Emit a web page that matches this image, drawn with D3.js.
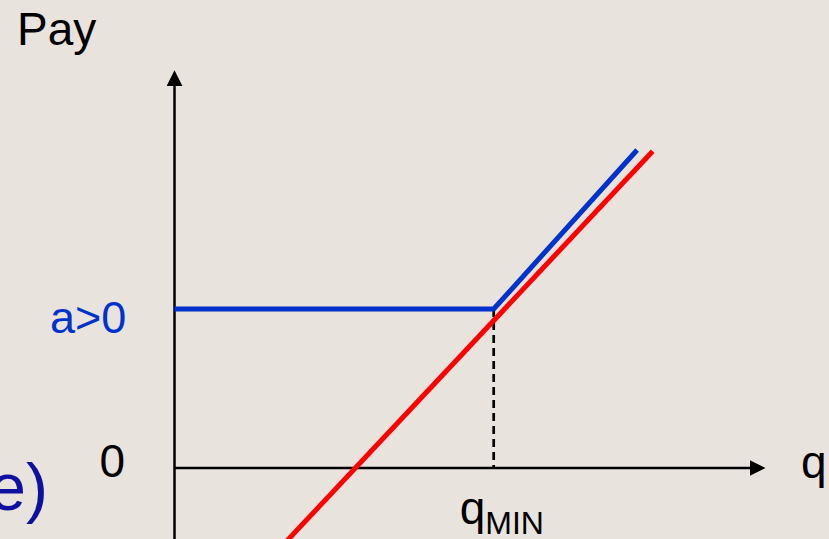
<!DOCTYPE html>
<html lang="en">
<head>
  <meta charset="UTF-8">
  <title>Pay vs q</title>
  <style>
    body { margin: 0; background: #e8e4dd; }
    svg text { font-family: "Liberation Sans", Arial, sans-serif; }
  </style>
</head>
<body>
  <svg width="829" height="539"></svg>
  <script src="https://cdn.jsdelivr.net/npm/d3@7"></script>
  <script>
    // values (q units / pay units)
    var qMin = 5.32
    var a = 2.65
    var blueLine = [[0, a], [qMin, a], [7.71, 5.3]]
    var redLine = [[1.85, -1.24], [7.97, 5.28]]
    var xAxisEnd = 9.85
    var yAxisRange = [-1.2, 6.63]

    var svg = d3.select('svg')
    var width = +svg.attr('width')
    var height = +svg.attr('height')

    svg.append('rect')
      .attr('width', width)
      .attr('height', height)
      .attr('fill', '#e8e4dd')

    var x = d3.scaleLinear().domain([0, 10]).range([174.5, 774.5])
    var y = d3.scaleLinear().domain([0, 5]).range([468, 168])

    var line = d3.line()
      .x(function(d) { return x(d[0]) })
      .y(function(d) { return y(d[1]) })

    // arrowhead: base sits at the line end, tip 16px further on
    var defs = svg.append('defs')
    defs.append('marker')
      .attr('id', 'arrow')
      .attr('markerUnits', 'userSpaceOnUse')
      .attr('viewBox', '0 0 16 16')
      .attr('refX', 1)
      .attr('refY', 8)
      .attr('markerWidth', 16)
      .attr('markerHeight', 16)
      .attr('orient', 'auto')
      .append('path')
      .attr('d', 'M0,0 L16,8 L0,16 Z')
      .attr('fill', '#000')

    // axes
    svg.append('line')
      .attr('x1', x(0)).attr('y1', y(0))
      .attr('x2', x(xAxisEnd) - 15).attr('y2', y(0))
      .attr('stroke', '#000')
      .attr('stroke-width', 2.5)
      .attr('marker-end', 'url(#arrow)')

    svg.append('line')
      .attr('x1', x(0)).attr('y1', y(yAxisRange[0]))
      .attr('x2', x(0)).attr('y2', y(yAxisRange[1]) + 15)
      .attr('stroke', '#000')
      .attr('stroke-width', 2.5)
      .attr('marker-end', 'url(#arrow)')

    // dashed guide at qMin
    svg.append('line')
      .attr('x1', x(qMin)).attr('y1', y(a))
      .attr('x2', x(qMin)).attr('y2', y(0))
      .attr('stroke', '#000')
      .attr('stroke-width', 2.7)
      .attr('stroke-dasharray', '8,5')

    svg.append('path')
      .datum(redLine)
      .attr('d', line)
      .attr('fill', 'none')
      .attr('stroke', '#ff0000')
      .attr('stroke-width', 5)

    svg.append('path')
      .datum(blueLine)
      .attr('d', line)
      .attr('fill', 'none')
      .attr('stroke', '#0033cc')
      .attr('stroke-width', 5)

    // labels
    svg.append('text')
      .attr('x', 17).attr('y', 45)
      .attr('font-size', 46)
      .attr('fill', '#000')
      .text('Pay')

    svg.append('text')
      .attr('x', 50).attr('y', y(a) + 24)
      .attr('font-size', 45)
      .attr('fill', '#0033cc')
      .text('a>0')

    svg.append('text')
      .attr('x', 125).attr('y', y(0) + 9)
      .attr('font-size', 46)
      .attr('text-anchor', 'end')
      .attr('fill', '#000')
      .text('0')

    svg.append('text')
      .attr('x', 801).attr('y', y(0) + 10)
      .attr('font-size', 46)
      .attr('fill', '#000')
      .text('q')

    var qm = svg.append('text')
      .attr('x', x(qMin) - 34).attr('y', 524)
      .attr('font-size', 46)
      .attr('fill', '#000')
    qm.append('tspan').text('q')
    qm.append('tspan').attr('dy', 10).attr('font-size', 32).text('MIN')

    // partial label cut by the left edge, as in the source slide
    svg.append('text')
      .attr('x', 48).attr('y', 510)
      .attr('font-size', 66)
      .attr('text-anchor', 'end')
      .attr('fill', '#1010a0')
      .text('e)')
  </script>
</body>
</html>
